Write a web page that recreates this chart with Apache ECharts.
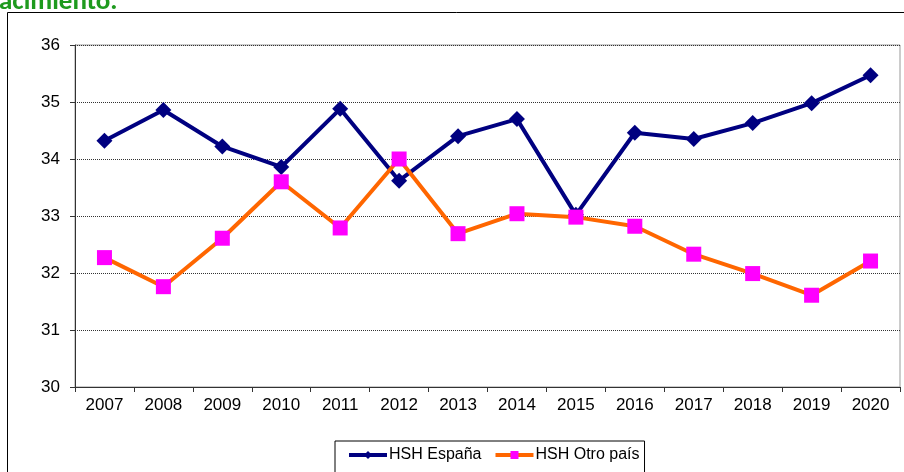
<!DOCTYPE html>
<html>
<head>
<meta charset="utf-8">
<script src="https://cdn.jsdelivr.net/npm/echarts@6/dist/echarts.min.js"></script>
<style>
  html, body { margin: 0; padding: 0; background: #fff; }
  #chart { width: 904px; height: 472px; }
</style>
</head>
<body>
<div id="chart"></div>
<script>
// años
const years = ['2007', '2008', '2009', '2010', '2011', '2012', '2013', '2014', '2015', '2016', '2017', '2018', '2019', '2020'];
// edad media HSH nacidos en España
const espana = [34.32, 34.86, 34.22, 33.86, 34.88, 33.62, 34.40, 34.70, 33.02, 34.46, 34.35, 34.63, 34.98, 35.47];
// edad media HSH nacidos en otro país
const otroPais = [32.27, 31.76, 32.61, 33.60, 32.79, 34.00, 32.69, 33.04, 32.98, 32.82, 32.33, 31.99, 31.61, 32.21];
const seriesNames = ['HSH España', 'HSH Otro país'];

const chart = echarts.init(document.getElementById('chart'));
const font = 'Arial, "Liberation Sans", sans-serif';

const option = {
  animation: false,
  backgroundColor: '#fff',
  textStyle: { fontFamily: font },
  graphic: [
    {
      type: 'rect',
      shape: { x: 7.5, y: 12.5, width: 900, height: 470 },
      style: { fill: 'none', stroke: '#000', lineWidth: 1 },
      z: -10
    },
    {
      type: 'text',
      x: -1,
      y: 16,
      style: {
        text: 'acimiento.',
        fill: '#1e9a1e',
        verticalAlign: 'bottom',
        font: 'bold 27px Carlito, Calibri, "Liberation Sans", sans-serif'
      }
    }
  ],
  grid: {
    left: 75,
    top: 45,
    right: 4,
    bottom: 85,
    show: true,
    borderColor: '#999',
    borderWidth: 1,
    backgroundColor: '#fff'
  },
  legend: {
    left: 335,
    top: 441,
    data: seriesNames,
    borderColor: '#000',
    borderWidth: 1,
    padding: [6, 5, 12, 12],
    itemWidth: 38,
    itemHeight: 10,
    itemGap: 12,
    lineStyle: { width: 4 },
    textStyle: { fontFamily: font, fontSize: 16, color: '#000', padding: [0, 0, 0, -3] }
  },
  xAxis: {
    type: 'category',
    data: years,
    boundaryGap: true,
    axisLine: { lineStyle: { color: '#333', width: 1 } },
    axisTick: { show: true, length: 5, lineStyle: { color: '#333' } },
    axisLabel: { color: '#000', fontSize: 17, fontFamily: font, margin: 10 }
  },
  yAxis: {
    type: 'value',
    min: 30,
    max: 36,
    interval: 1,
    axisLine: { show: true, lineStyle: { color: '#333', width: 1 } },
    axisTick: { show: true, length: 5, lineStyle: { color: '#333' } },
    axisLabel: { color: '#000', fontSize: 17, fontFamily: font, margin: 15 },
    splitLine: { show: true, lineStyle: { color: '#333', type: [1, 1], width: 1 } }
  },
  series: [
    {
      name: seriesNames[0],
      type: 'line',
      data: espana,
      symbol: 'diamond',
      symbolSize: 16,
      lineStyle: { color: '#000080', width: 4 },
      itemStyle: { color: '#000080' },
      z: 2
    },
    {
      name: seriesNames[1],
      type: 'line',
      data: otroPais,
      symbol: 'rect',
      symbolSize: 15,
      lineStyle: { color: '#ff6600', width: 4 },
      itemStyle: { color: '#ff00ff' },
      z: 3
    }
  ]
};

chart.setOption(option);
</script>
</body>
</html>
